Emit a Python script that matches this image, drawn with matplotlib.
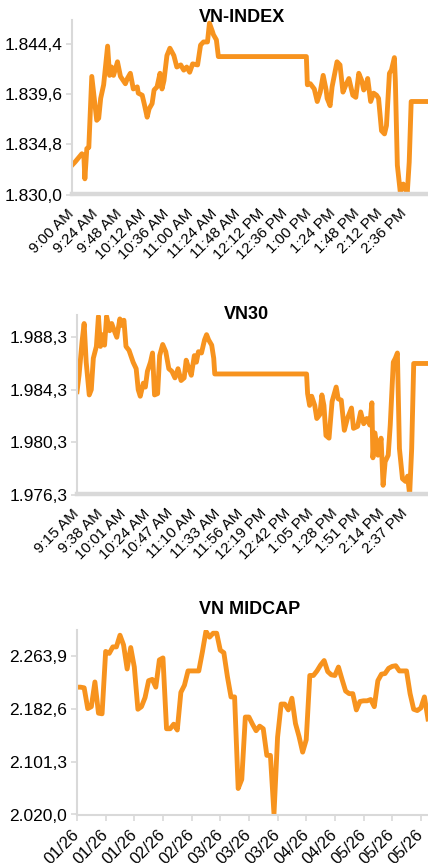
import matplotlib
matplotlib.use("Agg")
import matplotlib.pyplot as plt
from matplotlib.ticker import FixedLocator, FuncFormatter

plt.rcParams['font.family'] = ['Liberation Sans', 'DejaVu Sans']

# ---------------- data ----------------
# VN-INDEX: minutes after 9:00 AM, index value
vni_minutes = [0,3,10,12,13,15,17,20,25,27,29,32,36,38,40,42,46,49,54,56,59,62,66,67,71,73,76,78,81,83,
               86,89,91,93,96,99,103,106,110,113,116,119,122,127,130,133,137,139,142,143,146,148,237,238,
               241,245,248,251,254,257,258,261,263,268,271,274,277,280,284,287,290,293,295,297,299,302,305,
               308,310,313,316,318,321,323,326,327,329,332,335,339,341,343,360]
vni_values = [1832.8,1833.1,1833.9,1833.7,1831.5,1834.4,1834.5,1841.3,1837.1,1837.3,
              1839.2,1840.5,1844.2,1841.4,1842.2,1841.4,1842.7,1841.3,1840.6,1841.1,
              1841.6,1840.1,1840.3,1839.7,1839.5,1838.7,1837.4,1838.2,1838.7,1840.0,
              1840.3,1841.6,1840.1,1840.9,1843.3,1844.0,1843.3,1842.2,1842.4,1841.9,
              1842.2,1841.7,1842.5,1842.4,1844.3,1844.6,1844.6,1846.4,1845.6,1845.3,
              1844.8,1843.2,1843.2,1840.5,1840.6,1840.1,1838.9,1839.8,1841.4,1840.0,
              1839.2,1838.5,1840.3,1842.7,1842.4,1839.8,1840.5,1841.1,1839.5,1839.3,
              1841.6,1840.9,1840.0,1840.3,1841.1,1838.9,1839.7,1839.5,1839.2,1836.1,
              1835.8,1836.6,1841.6,1841.9,1843.1,1840.8,1832.8,1830.2,1831.0,1830.1,
              1833.1,1838.9,1838.9]
vni_ticks = [1830.0, 1834.8, 1839.6, 1844.4]
vni_xlabels = ['9:00 AM','9:24 AM','9:48 AM','10:12 AM','10:36 AM','11:00 AM','11:24 AM','11:48 AM',
               '12:12 PM','12:36 PM','1:00 PM','1:24 PM','1:48 PM','2:12 PM','2:36 PM']

# VN30: minutes after 9:15 AM
vn30_minutes = [0,2,5,7,9,12,14,16,19,21,23,25,27,29,32,34,37,39,42,44,
                46,48,51,55,58,60,62,65,67,69,72,74,76,79,81,84,87,90,93,96,
                99,102,105,107,109,112,115,117,119,122,125,127,129,132,134,135,225,226,228,230,
                233,235,238,240,242,244,247,250,254,256,259,262,265,269,271,275,278,281,284,287,
                289,290,292,295,298,300,302,305,307,310,312,314,316,319,322,324,326,328,330,344]
vn30_values = [1984.15,1985.4,1988.0,1989.35,1986.4,1983.9,1984.3,1986.7,1987.6,1989.9,
               1987.6,1988.5,1987.7,1989.9,1988.8,1989.35,1988.7,1988.3,1989.7,1989.2,
               1989.6,1987.6,1987.3,1986.4,1985.9,1984.3,1983.8,1984.8,1984.5,1985.7,
               1986.4,1987.1,1983.9,1984.0,1986.9,1987.75,1987.2,1985.9,1985.7,1985.2,
               1985.9,1985.0,1985.2,1986.55,1986.05,1985.4,1986.9,1986.4,1987.2,1987.1,
               1988.1,1988.5,1988.1,1987.7,1986.7,1985.5,1985.5,1984.0,1983.1,1983.8,
               1983.1,1982.1,1982.4,1983.9,1983.1,1980.8,1980.6,1983.4,1984.5,1983.6,
               1983.5,1981.2,1982.1,1982.9,1981.35,1981.5,1982.6,1981.7,1982.1,1981.6,
               1983.3,1979.1,1981.0,1979.3,1980.6,1977.0,1978.8,1979.3,1981.6,1986.4,
               1986.7,1987.1,1979.8,1977.5,1977.3,1977.7,1976.3,1979.8,1986.3,1986.3]
vn30_ticks = [1976.3, 1980.3, 1984.3, 1988.3]
vn30_xlabels = ['9:15 AM','9:38 AM','10:01 AM','10:24 AM','10:47 AM','11:10 AM','11:33 AM','11:56 AM',
                '12:19 PM','12:42 PM','1:05 PM','1:28 PM','1:51 PM','2:14 PM','2:37 PM']

# VN MIDCAP: daily closes (trading sessions)
mid_values = [2216,2216,2215,2183,2186,2224,2176,2175,2271,2268,
              2278,2278,2296,2281,2244,2277,2247,2182,2186,2200,
              2226,2228,2216,2258,2261,2152,2152,2159,2150,2208,
              2219,2241,2241,2241,2241,2270,2302,2293,2299,2299,
              2273,2269,2232,2201,2201,2060,2074,2170,2170,2159,
              2149,2156,2152,2111,2111,2021,2139,2190,2190,2181,
              2199,2160,2140,2116,2135,2234,2234,2241,2250,2257,
              2240,2235,2234,2247,2228,2210,2206,2206,2181,2194,
              2195,2195,2197,2186,2226,2236,2237,2245,2248,2249,
              2241,2241,2241,2206,2182,2180,2184,2201,2167]
mid_ticks = [2020.0, 2101.3, 2182.6, 2263.9]
mid_xlabels = ['01/26','01/26','01/26','02/26','02/26','03/26','03/26','03/26',
               '04/26','04/26','05/26','05/26','05/26']

# ---------------- style ----------------
W, H = 428, 863
LINE = '#F7931E'
GRID = '#D9D9D9'

def vn_fmt(v, pos=None):
    s = f"{v:,.1f}"
    return s.replace(',', 'X').replace('.', ',').replace('X', '.')

fig = plt.figure(figsize=(W/100, H/100), dpi=100)

def make_ax(left, top, bottom, right=W):
    return fig.add_axes([left/W, 1 - bottom/H, (right-left)/W, (bottom-top)/H])

def style(ax, yticks, ylim, thick_bottom):
    ax.set_ylim(*ylim)
    ax.yaxis.set_major_locator(FixedLocator(yticks))
    ax.yaxis.set_major_formatter(FuncFormatter(vn_fmt))
    for s in ['top', 'right']:
        ax.spines[s].set_visible(False)
    ax.spines['left'].set_color(GRID)
    ax.spines['left'].set_linewidth(1.5)
    ax.spines['bottom'].set_color(GRID)
    ax.spines['bottom'].set_linewidth(3.2 if thick_bottom else 1.5)
    ax.tick_params(axis='y', length=4, width=1.2, color=GRID, labelsize=12.5, pad=3, labelcolor='#000000')

# ---- VN-INDEX ----
ax1 = make_ax(72, 20, 194.5)
ax1.plot(vni_minutes, vni_values, color=LINE, lw=3.5, solid_joinstyle='round')
ax1.set_xlim(0, 360)
style(ax1, vni_ticks, (1830.0, 1846.7), True)
ax1.xaxis.set_major_locator(FixedLocator([24*i for i in range(len(vni_xlabels))]))
ax1.set_xticklabels(vni_xlabels, rotation=45, ha='right', va='center', rotation_mode='anchor')
ax1.tick_params(axis='x', length=0, labelsize=11, pad=12)
fig.text(242/W, 1 - 21.7/H, 'VN-INDEX', ha='center', va='baseline', fontsize=13, fontweight='bold')

# ---- VN30 ----
ax2 = make_ax(77, 315, 494.5)
ax2.plot(vn30_minutes, vn30_values, color=LINE, lw=3.5, solid_joinstyle='round')
ax2.set_xlim(0, 344)
style(ax2, vn30_ticks, (1976.3, 1990.0), True)
ax2.xaxis.set_major_locator(FixedLocator([23*i for i in range(len(vn30_xlabels))]))
ax2.set_xticklabels(vn30_xlabels, rotation=45, ha='right', va='center', rotation_mode='anchor')
ax2.tick_params(axis='x', length=0, labelsize=11, pad=12)
fig.text(246/W, 1 - 319.3/H, 'VN30', ha='center', va='baseline', fontsize=13, fontweight='bold')

# ---- VN MIDCAP ----
ax3 = make_ax(77, 630, 814.5)
ax3.plot(range(len(mid_values)), mid_values, color=LINE, lw=3.5, solid_joinstyle='round')
ax3.set_xlim(0, len(mid_values) - 1)
style(ax3, mid_ticks, (2020.0, 2304.0), False)
ax3.xaxis.set_major_locator(FixedLocator([8*i for i in range(len(mid_xlabels))]))
ax3.set_xticklabels(mid_xlabels, rotation=45, ha='right', va='center', rotation_mode='anchor')
ax3.tick_params(axis='x', length=4, width=1.2, color=GRID, labelsize=12, pad=9)
fig.text(249.5/W, 1 - 614/H, 'VN MIDCAP', ha='center', va='baseline', fontsize=13, fontweight='bold')

fig.savefig('out.png', dpi=100, facecolor='white')
